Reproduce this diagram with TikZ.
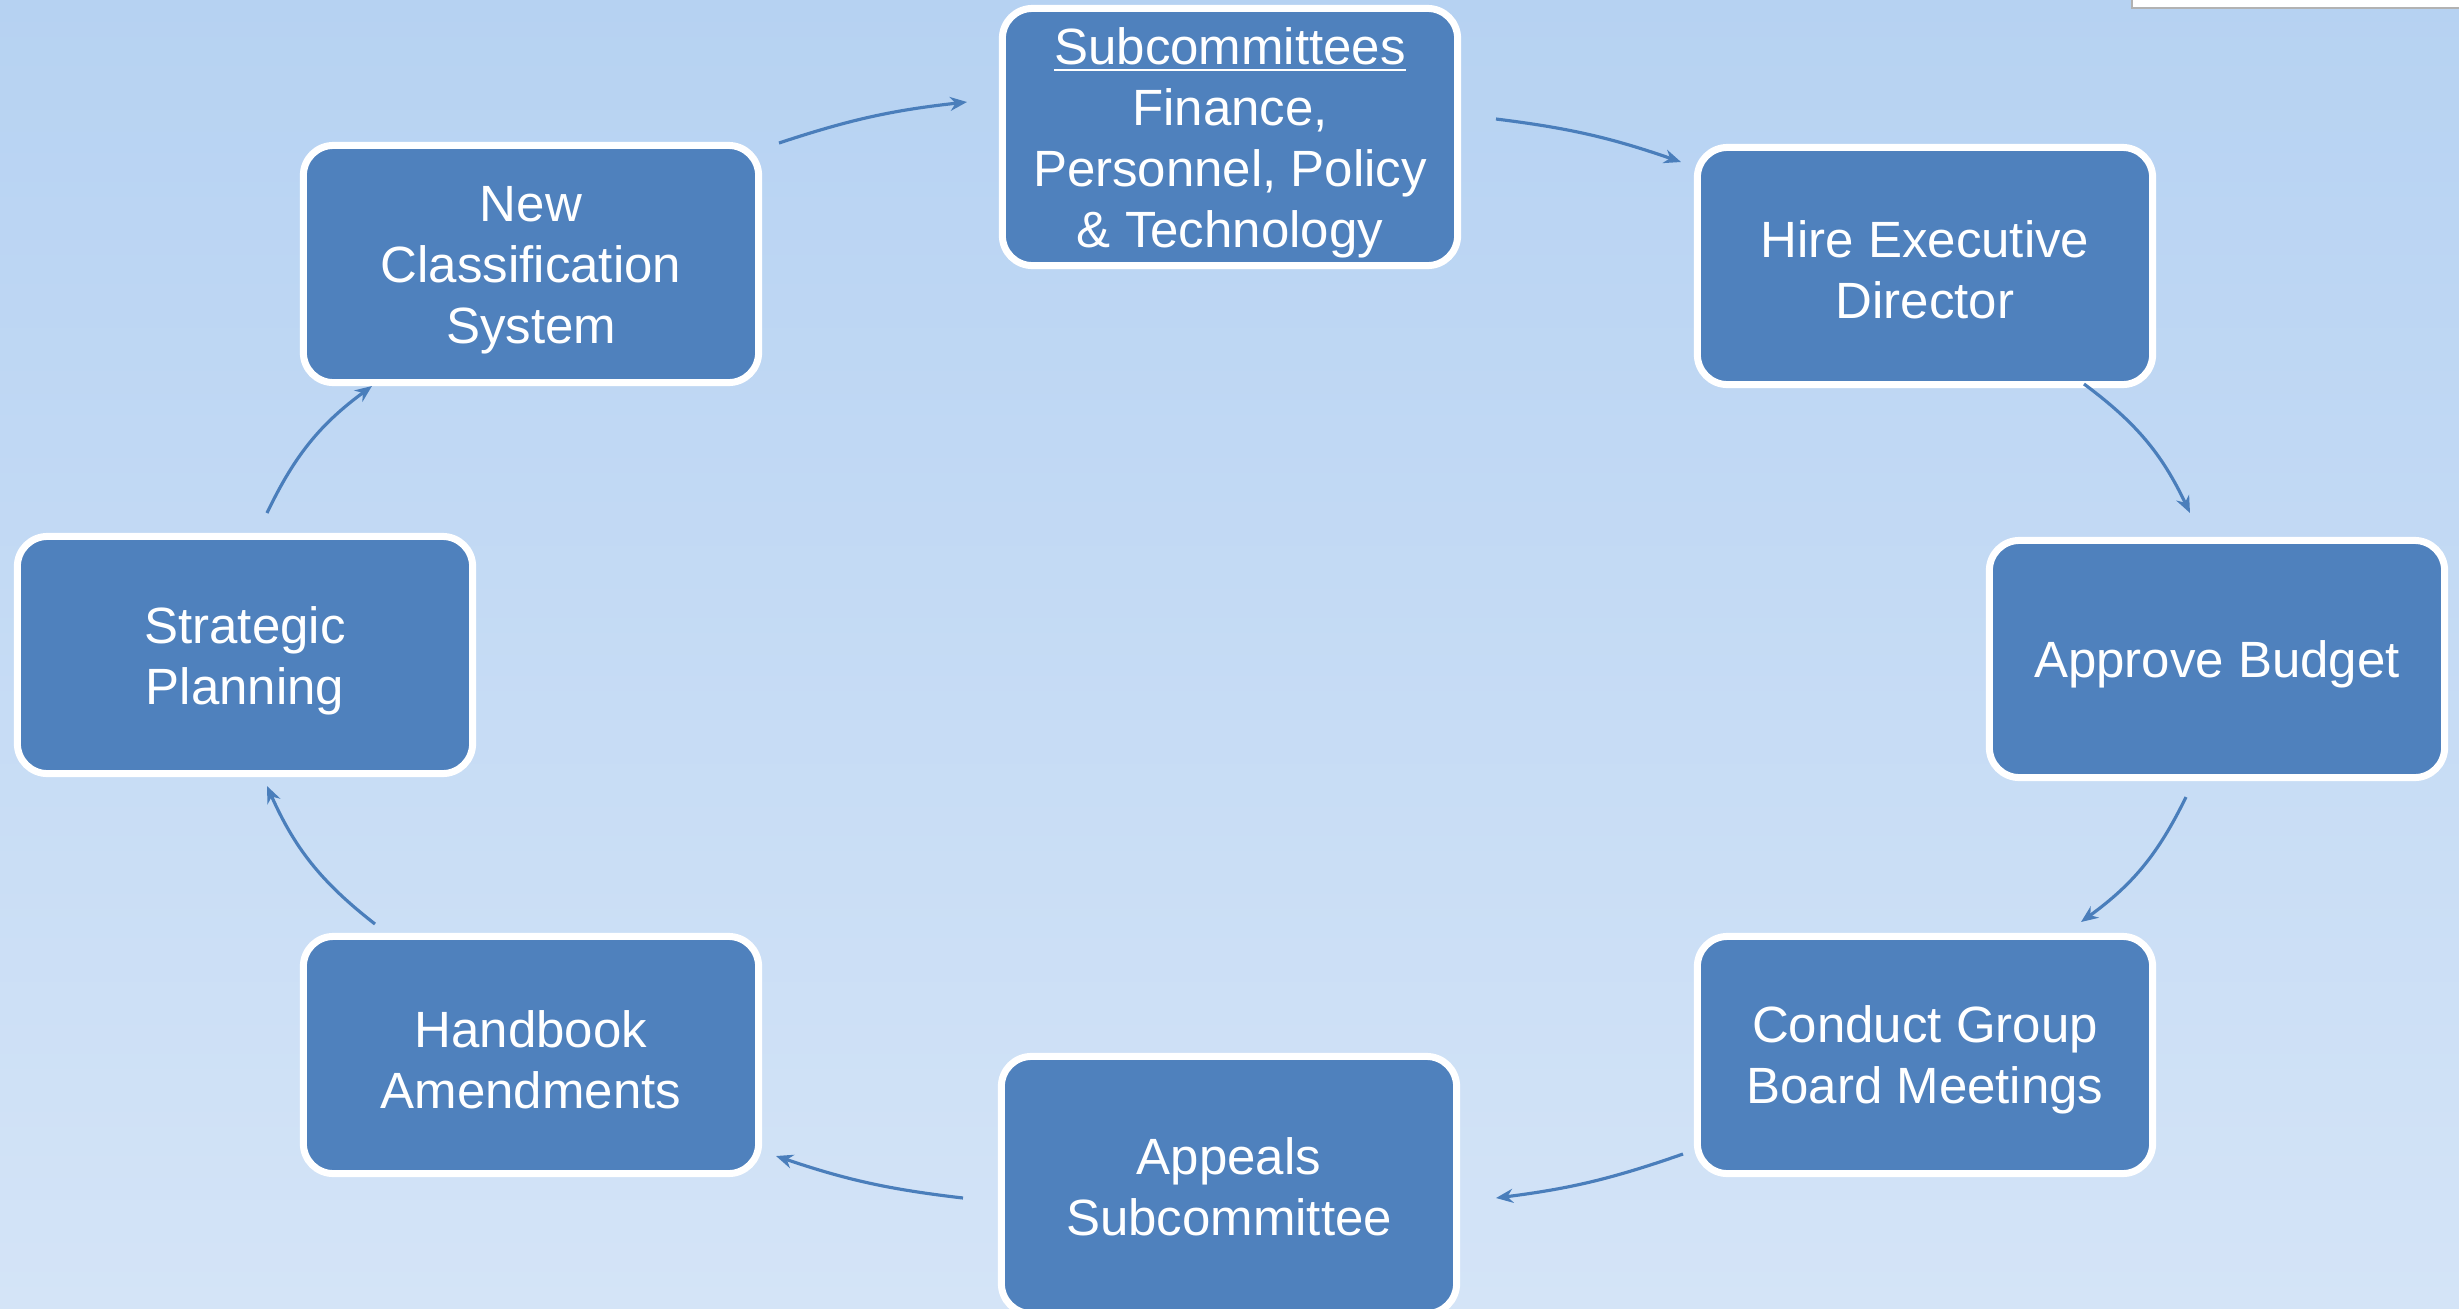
\documentclass[tikz,border=0pt]{standalone}
\usepackage{fontspec}
\setmainfont{Liberation Sans}
\usetikzlibrary{arrows.meta}
\definecolor{boxfill}{HTML}{4F81BD}
\definecolor{arrowcol}{HTML}{4A7EBB}
\definecolor{bgtop}{HTML}{B6D2F2}
\definecolor{bgbot}{HTML}{D4E4F7}
\tikzset{
  stagebox/.style={draw=white, line width=0.07cm, fill=boxfill, rounded corners=0.3cm,
    minimum width=4.55cm, minimum height=2.37cm, inner sep=0pt},
  stagetext/.style={align=center, text=white, inner sep=0pt,
    font=\fontsize{14.5pt}{17.4pt}\selectfont},
  conn/.style={draw=arrowcol, line width=0.9pt, -{Stealth[length=0.17cm,width=0.14cm]}}
}
\begin{document}
\begin{tikzpicture}[x=0.01cm,y=-0.01cm]
\useasboundingbox (0,0) rectangle (2459,1308);
\clip (0,0) rectangle (2459,1308);
\shade[top color=bgtop, bottom color=bgbot] (0,0) rectangle (2459,1308);
\fill[white] (2132,-5) rectangle (2465,8);
\draw[gray!60, line width=0.4pt] (2132,-5) -- (2132,8) -- (2465,8);

\node[stagebox, minimum height=2.57cm] (sub) at (1230,137) {};
\node[stagebox] (hire) at (1925,266) {};
\node[stagebox] (budget) at (2217,659) {};
\node[stagebox] (conduct) at (1925,1055) {};
\node[stagebox, minimum height=2.57cm] (appeals) at (1229,1185) {};
\node[stagebox] (hand) at (531,1055) {};
\node[stagebox] (strat) at (245,655) {};
\node[stagebox] (newc) at (531,264) {};

\node[stagetext] (subt) at ([yshift=-0.06cm]sub.center) {\underline{Subcommittees}\\Finance,\\Personnel, Policy\\\& Technology};
\node[stagetext] (hiret) at ([yshift=-0.04cm]hire.center) {Hire Executive\\Director};
\node[stagetext] (budgett) at ([yshift=-0.05cm]budget.center) {Approve Budget};
\node[stagetext] (conductt) at ([yshift=-0.05cm]conduct.center) {Conduct Group\\Board Meetings};
\node[stagetext] (appealst) at ([yshift=-0.02cm]appeals.center) {Appeals\\Subcommittee};
\node[stagetext] (handt) at ([yshift=-0.05cm]hand.center) {Handbook\\Amendments};
\node[stagetext] (stratt) at ([yshift=-0.06cm]strat.center) {Strategic\\Planning};
\node[stagetext] (newct) at ([yshift=-0.06cm]newc.center) {New\\Classification\\System};

\coordinate (a1s) at (779,143); \coordinate (a1e) at (967,102);
\coordinate (a2s) at (1496,119); \coordinate (a2e) at (1681,162);
\coordinate (a3s) at (2084,384); \coordinate (a3e) at (2190,513);
\coordinate (a4s) at (2186,797); \coordinate (a4e) at (2081,922);
\coordinate (a5s) at (1683,1154); \coordinate (a5e) at (1496,1198);
\coordinate (a6s) at (963,1198); \coordinate (a6e) at (776,1156);
\coordinate (a7s) at (375,924); \coordinate (a7e) at (267,786);
\coordinate (a8s) at (267,513); \coordinate (a8e) at (372,386);

\draw[conn] (a1s) to[bend left=6] (a1e);
\draw[conn] (a2s) to[bend left=6] (a2e);
\draw[conn] (a3s) to[bend left=14] (a3e);
\draw[conn] (a4s) to[bend left=14] (a4e);
\draw[conn] (a5s) to[bend left=6] (a5e);
\draw[conn] (a6s) to[bend left=6] (a6e);
\draw[conn] (a7s) to[bend left=14] (a7e);
\draw[conn] (a8s) to[bend left=14] (a8e);
\end{tikzpicture}
\end{document}
